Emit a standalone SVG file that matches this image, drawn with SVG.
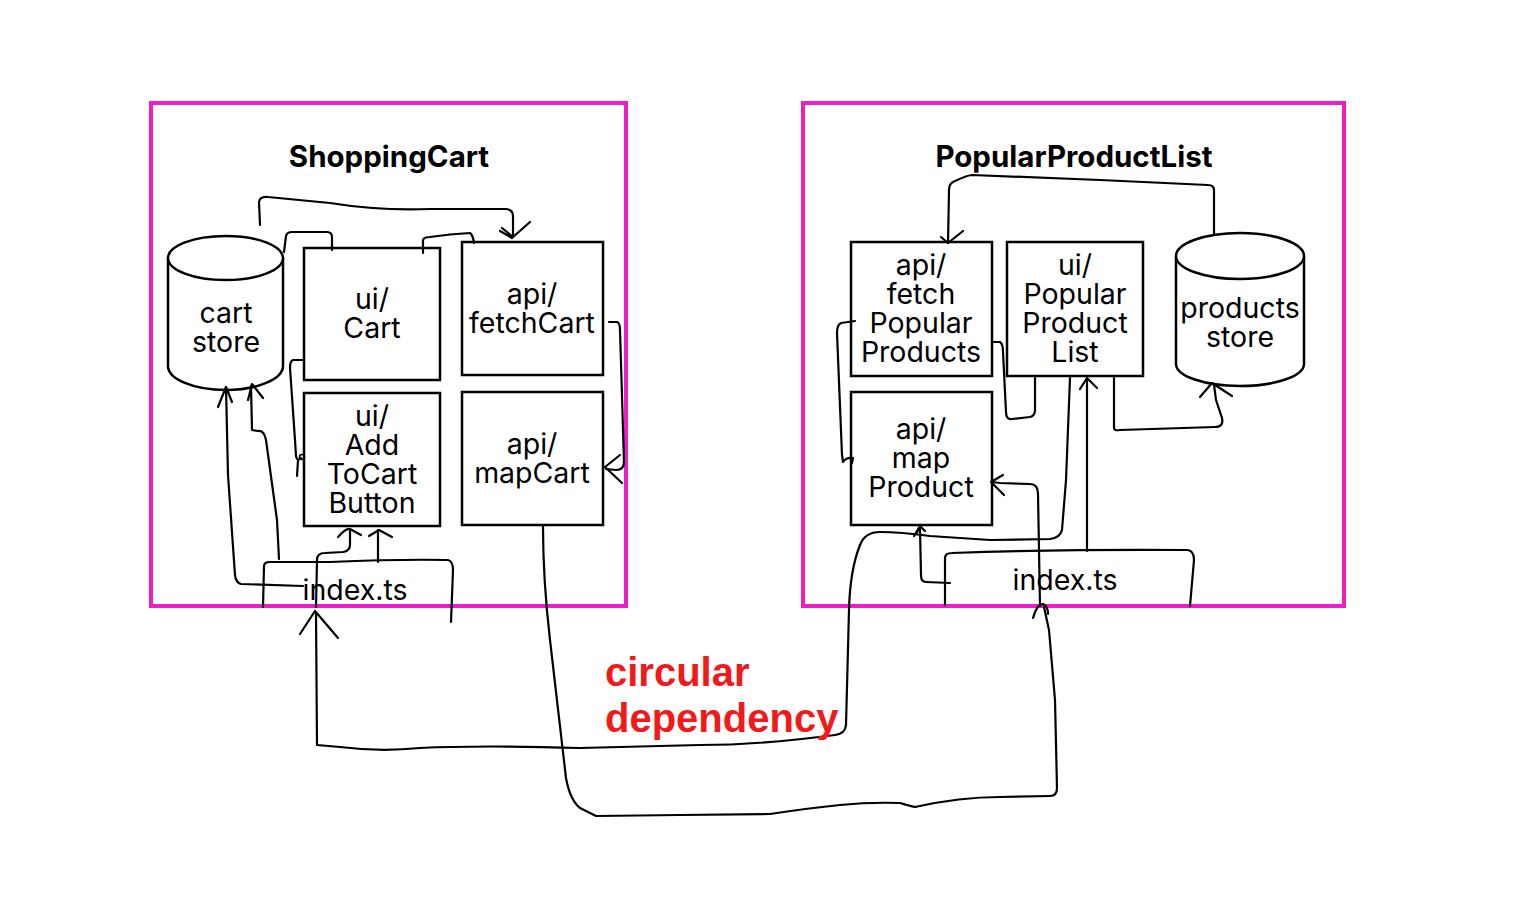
<svg xmlns="http://www.w3.org/2000/svg" width="1520" height="920" viewBox="0 0 1520 920">
<style>
.frame{fill:none;stroke:#ec1ec8;stroke-width:4}
.box{fill:#fff;stroke:#000;stroke-width:2.5}
.ln{fill:none;stroke:#000;stroke-width:2.2;stroke-linecap:round;stroke-linejoin:round}
.lbl{font-family:Inter,"Liberation Sans",sans-serif;font-size:28.5px;fill:#000;text-anchor:middle}
.title{font-family:Inter,"Liberation Sans",sans-serif;font-size:29.5px;font-weight:bold;fill:#000;text-anchor:middle}
.red{font-family:"Liberation Sans",Arial,sans-serif;font-size:40px;font-weight:bold;fill:#f11a1a}
</style>
<rect width="1520" height="920" fill="#fff"/>

<g id="frame-shoppingcart">
<rect class="frame" x="151" y="103" width="475" height="503"/>
<text class="title" x="389" y="167">ShoppingCart</text>
</g>
<g id="frame-popularproductlist">
<rect class="frame" x="803" y="103" width="541" height="503"/>
<text class="title" x="1074" y="167">PopularProductList</text>
</g>

<g id="cart-store">
<path class="box" d="M168,258 L168,366 A57.5,24 0 0 0 283,366 L283,258"/>
<ellipse class="box" cx="225.5" cy="258" rx="57.5" ry="22"/>
<text class="lbl" x="226" y="323">cart</text>
<text class="lbl" x="226" y="352">store</text>
</g>
<g id="ui-cart">
<rect class="box" x="304" y="248" width="136" height="132"/>
<text class="lbl" x="372" y="309">ui/</text>
<text class="lbl" x="372" y="338">Cart</text>
</g>
<g id="api-fetchcart">
<rect class="box" x="462" y="242" width="141" height="133"/>
<text class="lbl" x="532" y="304">api/</text>
<text class="lbl" x="532" y="333">fetchCart</text>
</g>
<g id="ui-addtocartbutton">
<rect class="box" x="304" y="393" width="136" height="133"/>
<text class="lbl" x="372" y="426">ui/</text>
<text class="lbl" x="372" y="455">Add</text>
<text class="lbl" x="372" y="484">ToCart</text>
<text class="lbl" x="372" y="513">Button</text>
</g>
<g id="api-mapcart">
<rect class="box" x="462" y="392" width="141" height="133"/>
<text class="lbl" x="532" y="454">api/</text>
<text class="lbl" x="532" y="483">mapCart</text>
</g>
<g id="index-left">
<path class="ln" d="M263,607 L264,566 Q264,562 270,562 L330,562 Q400,559 448,560 Q453,561 453,570 L451,622"/>
<text class="lbl" x="355" y="600">index.ts</text>
</g>

<g id="api-fetchpopularproducts">
<rect class="box" x="851" y="242" width="141" height="134"/>
<text class="lbl" x="921" y="275">api/</text>
<text class="lbl" x="921" y="304">fetch</text>
<text class="lbl" x="921" y="333">Popular</text>
<text class="lbl" x="921" y="362">Products</text>
</g>
<g id="ui-popularproductlist">
<rect class="box" x="1007" y="242" width="136" height="134"/>
<text class="lbl" x="1075" y="275">ui/</text>
<text class="lbl" x="1075" y="304">Popular</text>
<text class="lbl" x="1075" y="333">Product</text>
<text class="lbl" x="1075" y="362">List</text>
</g>
<g id="products-store">
<path class="box" d="M1176,256 L1176,364 A64,22 0 0 0 1304,364 L1304,256"/>
<ellipse class="box" cx="1240" cy="256" rx="64" ry="23"/>
<text class="lbl" x="1240" y="318">products</text>
<text class="lbl" x="1240" y="347">store</text>
</g>
<g id="api-mapproduct">
<rect class="box" x="851" y="392" width="141" height="133"/>
<text class="lbl" x="921" y="439">api/</text>
<text class="lbl" x="921" y="468">map</text>
<text class="lbl" x="921" y="497">Product</text>
</g>
<g id="index-right">
<path class="ln" d="M945,605 L945,558 Q945,553 952,553 Q1070,549 1188,550 Q1194,551 1194,560 L1190,606"/>
<text class="lbl" x="1065" y="590">index.ts</text>
</g>

<g id="connectors">
<path class="ln" d="M260,225 L259,202 Q260,196 268,197 Q300,200 330,203 Q380,211 430,209 L505,209 Q513,209 513,216 L513,237"/>
<path class="ln" d="M502,228 L513,237 L530,222 M500,231 L512,238"/>
<path class="ln" d="M284,252 L286,236 Q287,232 292,232 L327,232 Q332,232 332,237 L332,250"/>
<path class="ln" d="M423,253 L423,240 Q424,237 430,237 Q450,234 470,233 Q473,235 474,243"/>
<path class="ln" d="M609,322 L617,322 Q620,323 620,330 L624,462 Q624,470 616,470 L606,469"/>
<path class="ln" d="M620,455 L605,467 L622,483"/>
<path class="ln" d="M303,360 L293,360 Q290,361 290,368 L295,440 L296,456 Q297,462 301,458 M298,460 L297,476"/>
<circle cx="302" cy="457" r="2.5" fill="none" stroke="#000" stroke-width="1.6"/>
<path class="ln" d="M303,586 L241,584 Q236,583 235,575 L228,475 L226,387"/>
<path class="ln" d="M218,407 L226,387 L232,402"/>
<path class="ln" d="M279,559 L277,520 L266,440 Q264,430 258,431 L252,430 L251,386"/>
<path class="ln" d="M248,400 L252,384 L263,398"/>
<path class="ln" d="M316,607 L317,560 Q317,553 325,553 L343,552 Q350,551 350,545 L350,530"/>
<path class="ln" d="M338,537 Q346,528 350,529 L361,535"/>
<path class="ln" d="M378,562 L378,530"/>
<path class="ln" d="M369,536 L379,530 L392,537"/>
<path class="ln" d="M1070,378 L1066,480 L1062,530 Q1060,538 1050,539 L990,540 L930,536 Q900,532 880,532 Q865,532 860,545 Q850,570 849,610 L846,725 Q845,734 835,735 Q760,745 700,745 L580,748 Q480,745 420,748 Q380,752 340,747 L317,745 L316,613"/>
<path class="ln" d="M300,634 L315,611 L338,638"/>
<path class="ln" d="M543,526 Q543,580 550,640 L566,778 Q570,800 580,808 L596,816 L680,815 L770,814 Q810,808 840,805 Q870,802 900,803 Q910,806 915,807 Q960,797 1000,797 L1050,796 Q1057,796 1057,788 L1055,700 L1049,630 L1044,607"/>
<path class="ln" d="M1033,618 Q1037,604 1043,604 Q1048,606 1048,614"/>
<path class="ln" d="M1214,235 L1214,190 Q1214,185 1208,185 L1100,180 L972,175 Q968,175 955,181 Q949,183 949,190 L948,243"/>
<path class="ln" d="M941,237 L948,243 L963,231"/>
<path class="ln" d="M855,321 L841,323 Q837,325 837,333 L842,455 L843,462 Q846,457 853,458 L852,463"/>
<path class="ln" d="M994,342 L1000,342 Q1003,344 1003,352 L1006,412 Q1006,420 1012,419 L1030,417 Q1035,416 1035,410 L1035,378"/>
<path class="ln" d="M1114,378 L1114,428 Q1114,431 1120,430 L1215,427 Q1224,427 1222,418 L1216,400 L1214,385"/>
<path class="ln" d="M1200,397 L1212,383 L1232,396"/>
<path class="ln" d="M1087,551 L1087,380"/>
<path class="ln" d="M1080,389 L1087,378 L1097,388"/>
<path class="ln" d="M950,583 L926,582 Q921,582 921,575 L920,529"/>
<path class="ln" d="M914,536 L920,526 L925,531 M916,534 L921,525"/>
<path class="ln" d="M1040,606 L1038,494 Q1038,484 1030,484 L1000,483 L992,482"/>
<path class="ln" d="M1003,475 L991,482 L1004,495"/>
</g>

<g id="note">
<text class="red" x="605" y="686">circular</text>
<text class="red" x="605" y="732">dependency</text>
</g>
</svg>
